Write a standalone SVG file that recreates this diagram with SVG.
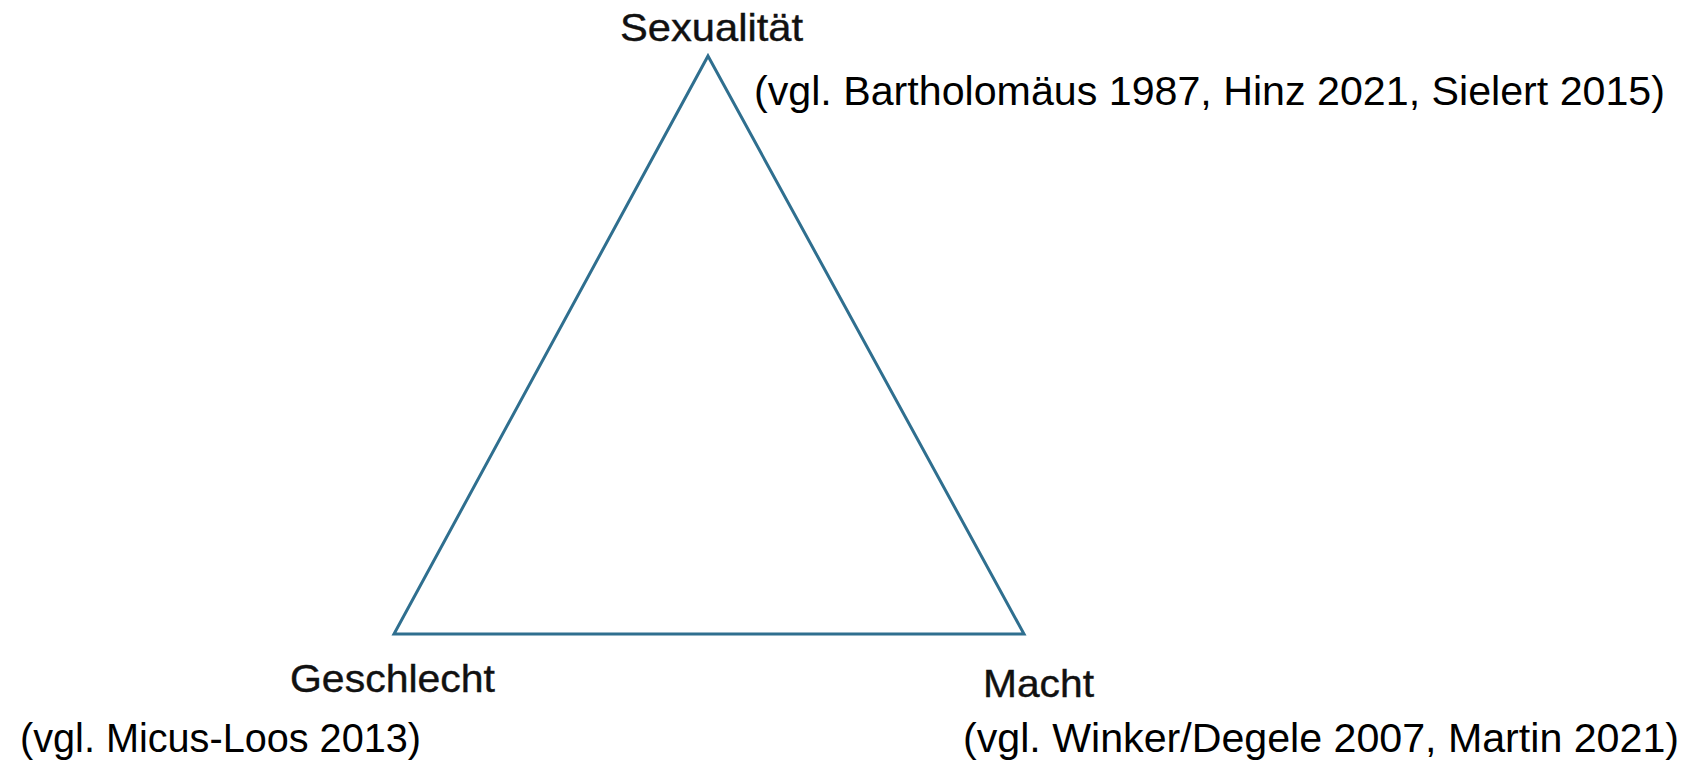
<svg xmlns="http://www.w3.org/2000/svg" width="1701" height="761" viewBox="0 0 1701 761">
<style>
.lbl{font-family:"Liberation Sans",Arial,sans-serif;font-size:39px;fill:#111;stroke:#111;stroke-width:0.4}
.cit{font-family:"Liberation Sans",Arial,sans-serif;font-size:40px;fill:#000}
.edge{fill:none;stroke:#2f6f8f;stroke-width:3;stroke-linejoin:miter}
</style>
<rect width="1701" height="761" fill="#fff"/>
<g id="connectors">
<path class="edge" d="M708,56 L1024,634 L394,634 Z"/>
</g>
<g id="node-sexualitaet">
<text class="lbl" x="620" y="41" textLength="183" lengthAdjust="spacingAndGlyphs">Sexualität</text>
<text class="cit" x="754" y="105" textLength="911" lengthAdjust="spacingAndGlyphs">(vgl. Bartholomäus 1987, Hinz 2021, Sielert 2015)</text>
</g>
<g id="node-geschlecht">
<text class="lbl" x="290" y="692" textLength="205" lengthAdjust="spacingAndGlyphs">Geschlecht</text>
<text class="cit" x="20" y="752" textLength="401" lengthAdjust="spacingAndGlyphs">(vgl. Micus-Loos 2013)</text>
</g>
<g id="node-macht">
<text class="lbl" x="983" y="697" textLength="111" lengthAdjust="spacingAndGlyphs">Macht</text>
<text class="cit" x="963" y="752" textLength="716" lengthAdjust="spacingAndGlyphs">(vgl. Winker/Degele 2007, Martin 2021)</text>
</g>
</svg>
